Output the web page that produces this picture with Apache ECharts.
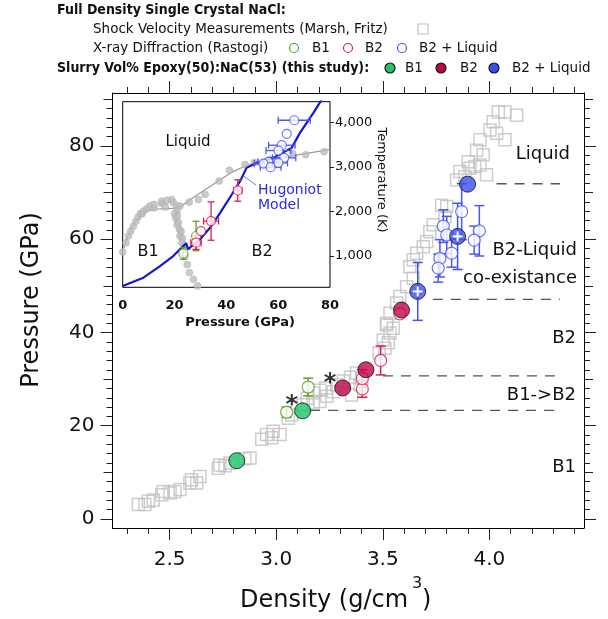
<!DOCTYPE html>
<html>
<head>
<meta charset="utf-8">
<script src="https://cdn.jsdelivr.net/npm/echarts@6/dist/echarts.min.js"></script>
<style>html,body{margin:0;padding:0;background:#fff}#box{width:608px;height:619px}</style>
</head>
<body>
<div id="box"></div>
<script>
// main plot: density (g/cm3) vs pressure (GPa)
var densityMajor = [2.5, 3.0, 3.5, 4.0];
var densityMinor = [2.3, 2.4, 2.6, 2.7, 2.8, 2.9, 3.1, 3.2, 3.3, 3.4, 3.6, 3.7, 3.8, 3.9, 4.1, 4.2, 4.3, 4.4];
var pressureMajor = [0, 20, 40, 60, 80];
var pressureMid = [10, 30, 50, 70, 90];
var pressureMinor = [2, 4, 6, 8, 12, 14, 16, 18, 22, 24, 26, 28, 32, 34, 36, 38, 42, 44, 46, 48, 52, 54, 56, 58, 62, 64, 66, 68, 72, 74, 76, 78, 82, 84, 86, 88];

// shock velocity measurements (Marsh, Fritz) [density, pressure]
var shockData = [
  [2.353, 3.1], [2.400, 3.8], [2.384, 3.1], [2.423, 4.1], [2.463, 5.2], [2.470, 5.9], [2.502, 5.6], [2.525, 5.9],
  [2.549, 6.3], [2.595, 7.7], [2.603, 8.4], [2.627, 7.7], [2.642, 9.1], [2.728, 10.9], [2.736, 11.6], [2.760, 11.4],
  [2.783, 12.0], [2.853, 12.9], [2.877, 13.1], [2.932, 17.1], [2.955, 18.1], [2.986, 18.8], [3.018, 18.1], [2.979, 17.4],
  [3.057, 21.6], [3.073, 22.3], [3.127, 24.5], [3.146, 25.9], [3.174, 24.9], [3.174, 27.0], [3.205, 25.2], [3.205, 27.6],
  [3.237, 26.3], [3.233, 28.1], [3.268, 27.3], [3.284, 28.8], [3.315, 29.6], [3.349, 30.4], [3.354, 26.6], [3.377, 31.3],
  [3.393, 28.8], [3.401, 30.2], [3.483, 35.6], [3.510, 36.6], [3.526, 37.8], [3.502, 38.4], [3.534, 39.9], [3.518, 41.6],
  [3.549, 40.9], [3.518, 42.0], [3.534, 44.1], [3.565, 46.3], [3.580, 47.7], [3.612, 49.8], [3.643, 51.6], [3.627, 54.1],
  [3.643, 55.6], [3.706, 59.5], [3.721, 61.6], [3.737, 63.1], [3.776, 67.3], [3.800, 67.0], [3.792, 64.8], [3.846, 72.7],
  [3.862, 74.5], [3.885, 73.4], [3.901, 76.6], [3.909, 75.2], [3.932, 75.6], [3.956, 75.9], [3.987, 73.8], [3.940, 79.1],
  [3.971, 78.1], [3.956, 81.3], [4.003, 83.4], [4.034, 82.7], [4.073, 81.3], [4.018, 85.2], [4.042, 87.3], [4.073, 87.3],
  [4.128, 86.6], [3.659, 57.0], [3.690, 58.4]
];

// x-ray diffraction (Rastogi) [density, pressure, pressure error]
var xrdB1 = [[3.049, 22.9, 1.1], [3.150, 28.3, 1.9]];
var xrdB2 = [[3.404, 27.9, 1.8], [3.404, 30.1, 1.9], [3.490, 34.0, 3.1], [3.580, 44.0, 0]];
var xrdLiquid = [[3.870, 65.9, 6.0], [3.784, 62.8, 3.5], [3.800, 60.9, 4.0], [3.953, 61.8, 5.4], [3.929, 59.8, 3.0],
  [3.823, 57.0, 3.0], [3.768, 55.9, 4.0], [3.760, 53.8, 3.0]];

// this study [density, pressure, pressure error]
var slurryB1 = [[2.815, 12.5, 0], [3.124, 23.2, 0]];
var slurryB2 = [[3.312, 28.1, 0], [3.421, 32.0, 0], [3.588, 44.8, 0]];
var slurryLiquid = [[3.898, 71.8, 0], [3.851, 60.6, 7.1], [3.664, 48.8, 6.2]];
var starMarks = [[3.073, 25.6], [3.252, 30.3]];

// phase boundaries
var boundaryP = [71.9, 47.1, 30.7, 23.3];
var boundaryStart = [4.034, 3.735, 3.501, 3.159];
var boundaryEnd = 4.331;

// inset: pressure (GPa) vs temperature (K)
var tempTicks = [1000, 2000, 3000, 4000];
var meltDots = [
  [0, 1090], [1.3, 1300], [2.2, 1450], [3.1, 1560], [4.1, 1670], [5.1, 1780], [6.0, 1880], [6.9, 1955], [7.5, 1950],
  [8.0, 2010], [9.3, 2060], [10.5, 2120], [12.1, 2080], [12.1, 2160], [15.0, 2180], [15.0, 2230], [16.5, 2100],
  [17.0, 2250], [18.9, 2270], [19.5, 2200], [20.8, 2120], [21.0, 2010], [20.0, 1950], [20.5, 1850], [21.1, 1900],
  [21.0, 1700], [21.5, 1750], [21.9, 1600], [22.5, 1550], [22.1, 1450], [23.0, 1400], [22.8, 1300], [24.0, 1250],
  [23.4, 1150], [24.1, 1000], [24.9, 810], [25.7, 630], [27.3, 480], [28.9, 330], [22.1, 2120], [25.7, 2210],
  [29.2, 2270], [31.8, 2380], [37.2, 2680], [41.2, 2925], [47.2, 3050], [50.8, 3100], [56.8, 3165], [65.6, 3300],
  [70.6, 3270], [77.7, 3340]
];
var meltCurve = [[0.5, 1180], [2, 1450], [4, 1680], [6, 1850], [8, 1960], [10, 2020], [13, 2050], [16, 2060],
  [19, 2070], [22, 2110], [25, 2220], [30, 2420], [35, 2610], [40, 2800], [45, 2960], [50, 3070], [55, 3130],
  [60, 3190], [70, 3290], [80, 3390]];
var hugoniot = [[0, 328], [8, 515], [14.4, 776], [19.5, 1000], [23.4, 1224], [24.4, 1284], [25.3, 1150], [26.6, 1224],
  [29.8, 1373], [33.7, 1634], [37.6, 1970], [42.1, 2380], [45.3, 2679], [47.8, 2977], [51.7, 3089], [58.1, 3201],
  [65.2, 3425], [68.4, 3761], [73.6, 4209], [76.8, 4507]];
var hugoniotPointer = [[46.5, 2800], [51.5, 2590]];
// [pressure, temperature, pressure error, temperature error]
var insetB1 = [[23.4, 1060, 0, 130], [28.3, 1450, 0, 330]];
var insetB2 = [[28.3, 1300, 2.0, 150], [30.2, 1560, 0, 0], [34.1, 1784, 2.9, 430], [44.4, 2470, 1.6, 240]];
var insetLiquid = [[66.2, 4044, 6.2, 0], [63.3, 3739, 0, 0], [61.4, 3485, 5.1, 0], [60.1, 3365, 4.8, 0], [62.3, 3201, 4.5, 0],
  [56.2, 3112, 4.0, 0], [54.3, 3074, 3.5, 0], [60.1, 3089, 3.5, 0], [57.1, 2992, 4.0, 0]];

var FONT = '"DejaVu Sans", sans-serif';
var GREEN_O = '#5f9f22', RED_O = '#de1d4f', BLUE_O = '#4a55f2';
var GREEN_F = '#1dc66b', RED_F = '#c0054c', BLUE_F = '#3d4ef2';

var chart = echarts.init(document.getElementById('box'));

function errorBars(color, cap, width) {
  return function (params, api) {
    var x = api.value(0), y = api.value(1), ex = api.value(2), ey = api.value(3);
    var c = api.coord([x, y]);
    var kids = [];
    function seg(x1, y1, x2, y2) {
      kids.push({type: 'line', shape: {x1: x1, y1: y1, x2: x2, y2: y2}, style: {stroke: color, lineWidth: width}});
    }
    if (ey > 0) {
      var a = api.coord([x, y + ey]), b = api.coord([x, y - ey]);
      seg(c[0], a[1], c[0], b[1]);
      seg(c[0] - cap, a[1], c[0] + cap, a[1]);
      seg(c[0] - cap, b[1], c[0] + cap, b[1]);
    }
    if (ex > 0) {
      var l = api.coord([x - ex, y]), r = api.coord([x + ex, y]);
      seg(l[0], c[1], r[0], c[1]);
      seg(l[0], c[1] - cap, l[0], c[1] + cap);
      seg(r[0], c[1] - cap, r[0], c[1] + cap);
    }
    return {type: 'group', children: kids};
  };
}

function toBars(arr) {
  return arr.map(function (d) { return [d[0], d[1], 0, d[2]]; });
}

function ticksAxis(grid, pos, min, max, values, len, withLine) {
  return {
    gridIndex: grid, type: 'value', position: pos, min: min, max: max,
    splitLine: {show: false},
    axisLine: {show: !!withLine, onZero: false, lineStyle: {color: '#000', width: 1}},
    axisLabel: {show: false},
    axisTick: {show: true, inside: false, customValues: values, length: len, lineStyle: {color: '#222', width: 1}}
  };
}

var xMin = 2.232, xMax = 4.444, yMin = -1.93, yMax = 91.35;

var xAxes = [
  ticksAxis(0, 'bottom', xMin, xMax, densityMajor, 12, true),
  ticksAxis(0, 'bottom', xMin, xMax, densityMinor, 6),
  ticksAxis(0, 'top', xMin, xMax, densityMajor, 12, true),
  ticksAxis(0, 'top', xMin, xMax, densityMinor, 6),
  {
    gridIndex: 1, type: 'value', min: 0, max: 80, interval: 20,
    splitLine: {show: false}, axisLine: {show: false, onZero: false}, axisTick: {show: false},
    axisLabel: {fontSize: 13, fontWeight: 'bold', fontFamily: FONT, color: '#111', margin: 12}
  }
];
xAxes[0].axisLabel = {show: true, customValues: densityMajor, formatter: function (v) { return v.toFixed(1); },
  fontSize: 20, fontFamily: FONT, color: '#111', margin: 22};

var yAxes = [
  ticksAxis(0, 'left', yMin, yMax, pressureMajor, 12, true),
  ticksAxis(0, 'left', yMin, yMax, pressureMid, 9),
  ticksAxis(0, 'left', yMin, yMax, pressureMinor, 6),
  ticksAxis(0, 'right', yMin, yMax, pressureMajor, 12, true),
  ticksAxis(0, 'right', yMin, yMax, pressureMid, 9),
  ticksAxis(0, 'right', yMin, yMax, pressureMinor, 6),
  {
    gridIndex: 1, type: 'value', position: 'right', min: 300, max: 4460,
    splitLine: {show: false}, axisLine: {show: false, onZero: false},
    axisTick: {show: true, inside: false, customValues: tempTicks, length: 4, lineStyle: {color: '#222'}},
    axisLabel: {customValues: tempTicks, fontSize: 13, fontFamily: FONT, color: '#111', margin: 5}
  }
];
yAxes[0].axisLabel = {show: true, customValues: pressureMajor, fontSize: 20, fontFamily: FONT, color: '#111', margin: 18};

var series = [];
series.push({
  type: 'scatter', xAxisIndex: 0, yAxisIndex: 0, data: shockData, symbol: 'rect', symbolSize: 12, z: 2,
  itemStyle: {color: 'rgba(255,255,255,0)', borderColor: '#c2c2c2', borderWidth: 1.5}
});
boundaryP.forEach(function (p, i) {
  series.push({
    type: 'line', xAxisIndex: 0, yAxisIndex: 0, data: [[boundaryStart[i], p], [boundaryEnd, p]],
    symbol: 'none', z: 3, lineStyle: {color: '#555', width: 1.4, type: [10, 8]}
  });
});
[[xrdB1, GREEN_O], [xrdB2, RED_O], [xrdLiquid, BLUE_O], [slurryLiquid, BLUE_F]].forEach(function (g) {
  series.push({
    type: 'custom', xAxisIndex: 0, yAxisIndex: 0, data: toBars(g[0]), z: 4,
    renderItem: errorBars(g[1], 5, 1.5), encode: {x: 0, y: 1}
  });
});
[[xrdB1, GREEN_O], [xrdB2, RED_O], [xrdLiquid, BLUE_O]].forEach(function (g) {
  series.push({
    type: 'scatter', xAxisIndex: 0, yAxisIndex: 0, data: g[0], symbol: 'circle', symbolSize: 12, z: 5,
    itemStyle: {color: '#fff', borderColor: g[1], borderWidth: 1.2}
  });
});
[[slurryB1, GREEN_F], [slurryB2, RED_F], [slurryLiquid, BLUE_F]].forEach(function (g) {
  series.push({
    type: 'scatter', xAxisIndex: 0, yAxisIndex: 0, data: g[0], symbol: 'circle', symbolSize: 16, z: 6,
    itemStyle: {color: g[1], borderColor: '#111', borderWidth: 1}
  });
});
series.push({
  type: 'custom', xAxisIndex: 0, yAxisIndex: 0, z: 7, encode: {x: 0, y: 1},
  data: slurryLiquid.filter(function (d) { return d[2] > 0; }),
  renderItem: function (params, api) {
    var c = api.coord([api.value(0), api.value(1)]);
    return {type: 'group', children: [
      {type: 'line', shape: {x1: c[0] - 5, y1: c[1], x2: c[0] + 5, y2: c[1]}, style: {stroke: '#fff', lineWidth: 2}},
      {type: 'line', shape: {x1: c[0], y1: c[1] - 5, x2: c[0], y2: c[1] + 5}, style: {stroke: '#fff', lineWidth: 2}}
    ]};
  }
});
series.push({
  type: 'scatter', xAxisIndex: 0, yAxisIndex: 0, data: starMarks, symbolSize: 0, z: 7,
  label: {show: true, position: 'inside', formatter: '*', fontSize: 24, fontWeight: 'bold', fontFamily: FONT,
    color: '#000', offset: [0, 6]}
});

// inset
series.push({
  type: 'line', xAxisIndex: 4, yAxisIndex: 6, data: meltCurve, smooth: true, symbol: 'none', z: 3,
  lineStyle: {color: '#9a9a9a', width: 1.2}
});
series.push({
  type: 'scatter', xAxisIndex: 4, yAxisIndex: 6, data: meltDots, symbolSize: 7, z: 3,
  itemStyle: {color: '#bdbdbd', borderColor: '#aaa', borderWidth: 0.5}
});
series.push({
  type: 'line', xAxisIndex: 4, yAxisIndex: 6, data: hugoniot, symbol: 'none', z: 4,
  lineStyle: {color: '#1616d2', width: 2.2}
});
series.push({
  type: 'line', xAxisIndex: 4, yAxisIndex: 6, data: hugoniotPointer, symbol: 'none', z: 4,
  lineStyle: {color: '#3a5ee0', width: 0.8}
});
[[insetB1, GREEN_O], [insetB2, RED_O], [insetLiquid, BLUE_O]].forEach(function (g) {
  series.push({
    type: 'custom', xAxisIndex: 4, yAxisIndex: 6, data: g[0], z: 5, encode: {x: 0, y: 1},
    renderItem: errorBars(g[1], 3.5, 1.3)
  });
  series.push({
    type: 'scatter', xAxisIndex: 4, yAxisIndex: 6, data: g[0], symbol: 'circle', symbolSize: 9, z: 6,
    itemStyle: {color: '#fff', borderColor: g[1], borderWidth: 1.2}
  });
});

function txt(x, y, s, font, opts) {
  opts = opts || {};
  return {
    type: 'text', x: x, y: y, rotation: opts.rotation || 0, z: 100,
    style: {text: s, font: font, fill: opts.fill || '#111', align: opts.align || 'left', verticalAlign: 'middle'}
  };
}
function dot(x, y, r, fill, stroke) {
  return {type: 'circle', z: 100, shape: {cx: x, cy: y, r: r}, style: {fill: fill, stroke: stroke, lineWidth: 1.2}};
}

var HEAD = 'bold 14px "DejaVu Sans Condensed", "DejaVu Sans", sans-serif';
var LEG = '13.5px ' + FONT;
var graphics = [
  txt(57, 10, 'Full Density Single Crystal NaCl:', HEAD),
  txt(93, 29, 'Shock Velocity Measurements (Marsh, Fritz)', LEG),
  {type: 'rect', z: 100, shape: {x: 418, y: 24, width: 10, height: 10}, style: {fill: '#fff', stroke: '#c2c2c2', lineWidth: 1.2}},
  txt(93, 48, 'X-ray Diffraction (Rastogi)', LEG),
  dot(294, 48, 4.5, '#fff', GREEN_O), txt(312, 48, 'B1', LEG),
  dot(348, 48, 4.5, '#fff', RED_O), txt(365, 48, 'B2', LEG),
  dot(402, 48, 4.5, '#fff', BLUE_O), txt(419, 48, 'B2 + Liquid', LEG),
  txt(57, 68, 'Slurry Vol% Epoxy(50):NaC(53) (this study):', HEAD),
  dot(390, 68, 5, GREEN_F, '#111'), txt(405, 68, 'B1', LEG),
  dot(441, 68, 5, RED_F, '#111'), txt(460, 68, 'B2', LEG),
  dot(494, 68, 5, BLUE_F, '#111'), txt(512, 68, 'B2 + Liquid', LEG),
  txt(32, 300, 'Pressure (GPa)', '24px ' + FONT, {align: 'center', rotation: Math.PI / 2}),
  txt(240, 601, 'Density (g/cm', '24px ' + FONT),
  txt(412, 584, '3', '16px ' + FONT),
  txt(422, 601, ')', '24px ' + FONT),
  txt(570, 154, 'Liquid', '18px ' + FONT, {align: 'right'}),
  txt(577, 250, 'B2-Liquid', '18px ' + FONT, {align: 'right'}),
  txt(577, 278, 'co-existance', '18px ' + FONT, {align: 'right'}),
  txt(576, 338, 'B2', '18px ' + FONT, {align: 'right'}),
  txt(576, 395, 'B1->B2', '18px ' + FONT, {align: 'right'}),
  txt(576, 467, 'B1', '18px ' + FONT, {align: 'right'}),
  txt(188, 142, 'Liquid', '15px ' + FONT, {align: 'center'}),
  txt(148, 252, 'B1', '16px ' + FONT, {align: 'center'}),
  txt(262, 252, 'B2', '16px ' + FONT, {align: 'center'}),
  txt(258, 190, 'Hugoniot', '14px ' + FONT, {fill: '#2a2ae0'}),
  txt(258, 205, 'Model', '14px ' + FONT, {fill: '#2a2ae0'}),
  txt(240, 323, 'Pressure (GPa)', 'bold 13px ' + FONT, {align: 'center'}),
  txt(381, 180, 'Temperature (K)', '13px ' + FONT, {align: 'center', rotation: -Math.PI / 2})
];

chart.setOption({
  animation: false,
  backgroundColor: '#fff',
  grid: [
    {left: 112.5, top: 93, width: 471.5, height: 435},
    {left: 122.7, top: 101.7, width: 207.3, height: 185.6, show: true, backgroundColor: '#fff', borderColor: '#000', borderWidth: 1}
  ],
  xAxis: xAxes,
  yAxis: yAxes,
  series: series,
  graphic: graphics
});
</script>
</body>
</html>
